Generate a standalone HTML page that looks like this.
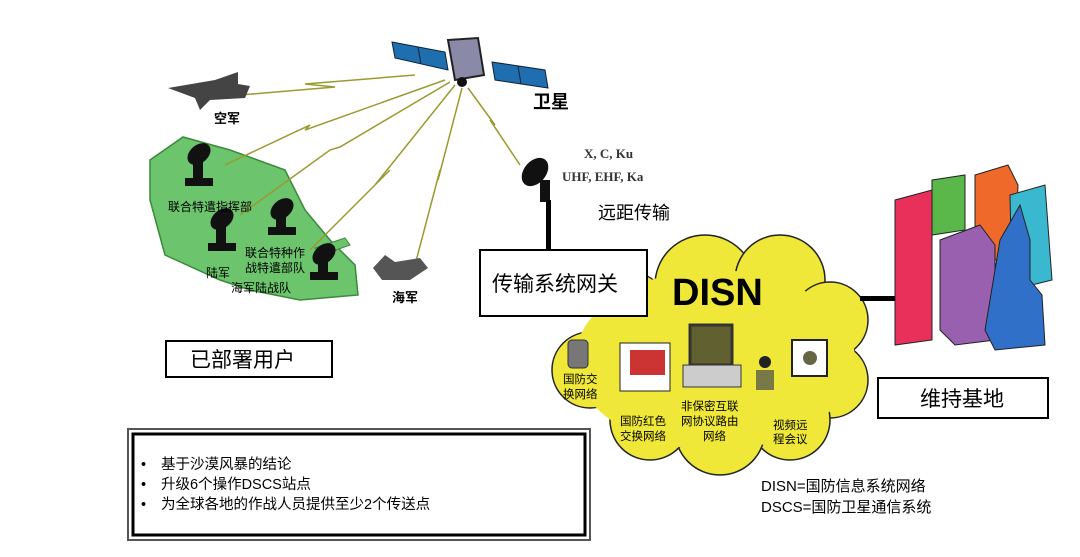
<!DOCTYPE html>
<html><head><meta charset="utf-8"><style>
body{margin:0;background:#fff;width:1080px;height:557px;overflow:hidden;font-family:"Liberation Sans","Noto Sans CJK SC",sans-serif}
svg{position:absolute;left:0;top:0}
</style></head><body>
<svg width="1080" height="557" viewBox="0 0 1080 557" font-family="Liberation Sans, Noto Sans CJK SC, sans-serif">
<!-- green region -->
<path d="M150,160 L183,137 L230,150 L285,170 L305,210 L330,240 L355,265 L358,295 L300,300 L250,290 L220,280 L165,255 L150,200 Z" fill="#6cc46c" stroke="#3a8a3a" stroke-width="1.5"/>
<path d="M315,248 L345,238 L350,245 L322,255 Z" fill="#6cc46c" stroke="#3a8a3a"/>
<!-- links -->
<g stroke="#9a9a30" stroke-width="1.5" fill="none">
<path d="M240,95 L335,87 L305,84 L415,75"/>
<path d="M225,165 L310,125 L305,130 L445,80"/>
<path d="M240,215 L330,150 L340,147 L450,82"/>
<path d="M310,250 L390,170 L375,185 L455,85"/>
<path d="M415,265 L440,170 L438,180 L462,88"/>
<path d="M520,165 L490,120 L495,125 L468,88"/>
</g>
<!-- satellite -->
<g>
<polygon points="392,42 445,52 448,70 395,58" fill="#1f6fb0" stroke="#123" stroke-width="1"/>
<line x1="418" y1="47" x2="421" y2="64" stroke="#123"/>
<polygon points="492,62 545,70 548,88 495,80" fill="#1f6fb0" stroke="#123"/>
<line x1="518" y1="66" x2="521" y2="84" stroke="#123"/>
<polygon points="448,40 478,38 484,75 455,80" fill="#8a8aa8" stroke="#222" stroke-width="2"/>
<circle cx="462" cy="82" r="5" fill="#111"/>
</g>
<text x="533" y="108" font-size="18" font-weight="bold">卫星</text>
<!-- plane -->
<g fill="#444"><polygon points="168,88 215,80 238,72 238,84 250,86 245,98 210,100 200,110 195,98"/></g>
<text x="214" y="123" font-size="13" font-weight="bold">空军</text>
<!-- dishes in green -->
<g fill="#111">
<g transform="translate(185,140)"><ellipse cx="14" cy="14" rx="13" ry="9" transform="rotate(-40 14 14)"/><rect x="8" y="22" width="10" height="18"/><rect x="0" y="38" width="28" height="8"/></g>
<g transform="translate(208,205)"><ellipse cx="14" cy="14" rx="13" ry="9" transform="rotate(-40 14 14)"/><rect x="8" y="22" width="10" height="18"/><rect x="0" y="38" width="28" height="8"/></g>
<g transform="translate(268,195)"><ellipse cx="14" cy="14" rx="13" ry="9" transform="rotate(-40 14 14)"/><rect x="8" y="22" width="10" height="14"/><rect x="0" y="32" width="28" height="8"/></g>
<g transform="translate(310,240)"><ellipse cx="14" cy="14" rx="13" ry="9" transform="rotate(-40 14 14)"/><rect x="8" y="22" width="10" height="14"/><rect x="0" y="32" width="28" height="8"/></g>
</g>
<g font-size="12">
<text x="168" y="211">联合特遣指挥部</text>
<text x="245" y="257">联合特种作</text>
<text x="245" y="272">战特遣部队</text>
<text x="206" y="277">陆军</text>
<text x="231" y="292">海军陆战队</text>
</g>
<!-- ship -->
<polygon points="373,268 385,255 395,262 420,258 428,268 410,280 382,280" fill="#555"/>
<text x="392" y="302" font-size="13" font-weight="bold">海军</text>
<!-- right dish -->
<g fill="#111"><ellipse cx="535" cy="172" rx="16" ry="11" transform="rotate(-50 535 172)"/><rect x="540" y="180" width="10" height="22"/></g>
<rect x="546" y="200" width="5" height="50" fill="#000"/>
<text x="584" y="158" font-family="Liberation Serif,serif" font-size="13" font-weight="bold" fill="#333">X, C, Ku</text>
<text x="562" y="181" font-family="Liberation Serif,serif" font-size="13" font-weight="bold" fill="#333">UHF, EHF, Ka</text>
<text x="598" y="219" font-size="18">远距传输</text>
<!-- cloud -->
<g fill="#efe838" stroke="#222" stroke-width="1.5">
<circle cx="705" cy="285" r="50"/><circle cx="780" cy="280" r="45"/><circle cx="830" cy="320" r="38"/><circle cx="830" cy="380" r="38"/>
<circle cx="790" cy="420" r="40"/><circle cx="720" cy="430" r="45"/><circle cx="650" cy="420" r="40"/><circle cx="590" cy="370" r="38"/><circle cx="630" cy="310" r="38"/>
</g>
<ellipse cx="715" cy="360" rx="140" ry="90" fill="#efe838"/>
<!-- gateway box -->
<rect x="480" y="250" width="167" height="66" fill="#fff" stroke="#000" stroke-width="2"/>
<text x="492" y="291" font-size="21">传输系统网关</text>
<text x="672" y="305" font-size="38" font-weight="bold">DISN</text>
<!-- devices -->
<rect x="568" y="340" width="20" height="28" rx="4" fill="#777" stroke="#333"/>
<rect x="620" y="343" width="50" height="48" fill="#fff" stroke="#222"/><rect x="630" y="350" width="35" height="25" fill="#c33"/>
<rect x="690" y="325" width="42" height="40" fill="#606030" stroke="#333" stroke-width="3"/><rect x="683" y="365" width="58" height="22" fill="#ccc" stroke="#333"/>
<rect x="792" y="340" width="35" height="36" fill="#fff" stroke="#222" stroke-width="2"/><circle cx="810" cy="358" r="7" fill="#664"/>
<circle cx="765" cy="362" r="6" fill="#222"/><rect x="756" y="370" width="18" height="20" fill="#797948"/>
<g font-size="11.5">
<text x="563" y="383">国防交</text><text x="563" y="398">换网络</text>
<text x="620" y="425">国防红色</text><text x="620" y="440">交换网络</text>
<text x="681" y="410">非保密互联</text><text x="681" y="425">网协议路由</text><text x="703" y="440">网络</text>
<text x="773" y="429">视频远</text><text x="773" y="443">程会议</text>
</g>
<!-- link to buildings -->
<rect x="860" y="296" width="35" height="5" fill="#000"/>
<!-- buildings -->
<polygon points="895,200 932,190 932,340 895,345" fill="#e8305a" stroke="#222"/>
<polygon points="932,180 965,175 965,230 932,235" fill="#5ab84a" stroke="#222"/>
<polygon points="975,175 1008,165 1018,185 1015,260 975,260" fill="#ef6a2a" stroke="#222"/>
<polygon points="1010,195 1045,185 1052,280 1012,290" fill="#3ab8d0" stroke="#222"/>
<polygon points="940,240 980,225 995,245 995,340 955,345 940,330" fill="#9a60b0" stroke="#222"/>
<polygon points="1000,240 1020,205 1030,240 1030,280 1042,295 1045,345 995,350 985,330" fill="#3070c8" stroke="#222"/>
<rect x="878" y="378" width="170" height="40" fill="#fff" stroke="#000" stroke-width="2"/>
<text x="920" y="406" font-size="21">维持基地</text>
<!-- deployed users -->
<rect x="166" y="341" width="166" height="36" fill="#fff" stroke="#000" stroke-width="2"/>
<text x="190" y="367" font-size="21">已部署用户</text>
<!-- bottom box -->
<rect x="128" y="429" width="462" height="111" fill="#fff" stroke="#555" stroke-width="2"/>
<rect x="133" y="434" width="452" height="101" fill="none" stroke="#000" stroke-width="3"/>
<g font-size="14.5">
<text x="141" y="469">•</text><text x="161" y="469">基于沙漠风暴的结论</text>
<text x="141" y="489">•</text><text x="161" y="489">升级6个操作DSCS站点</text>
<text x="141" y="509">•</text><text x="161" y="509">为全球各地的作战人员提供至少2个传送点</text>
</g>
<g font-size="15">
<text x="761" y="491">DISN=国防信息系统网络</text>
<text x="761" y="512">DSCS=国防卫星通信系统</text>
</g>
</svg>
</body></html>
